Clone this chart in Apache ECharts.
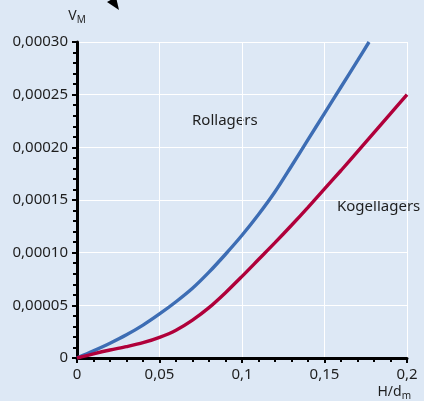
<!DOCTYPE html>
<html>
<head>
<meta charset="utf-8">
<script src="https://cdn.jsdelivr.net/npm/echarts@6/dist/echarts.min.js"></script>
<style>
html,body{margin:0;padding:0;background:#dde8f5;}
#c{width:424px;height:401px;}
</style>
</head>
<body>
<div id="c"></div>
<script>
// Data
var rollX = [0, 0.01, 0.02, 0.03, 0.04, 0.05, 0.06, 0.07, 0.08, 0.09, 0.10, 0.11, 0.12, 0.13, 0.14, 0.15, 0.16, 0.17, 0.177];
var rollY = [0, 0.0000068, 0.000014, 0.000022, 0.0000312, 0.0000418, 0.0000534, 0.0000662, 0.0000815, 0.0000985, 0.0001165, 0.0001362, 0.0001578, 0.0001823, 0.0002073, 0.0002323, 0.0002573, 0.0002823, 0.0003];
var kogX = [0, 0.01, 0.02, 0.03, 0.04, 0.05, 0.06, 0.07, 0.08, 0.09, 0.10, 0.11, 0.12, 0.13, 0.14, 0.15, 0.16, 0.17, 0.18, 0.19, 0.2];
var kogY = [0, 0.000004, 0.0000076, 0.0000108, 0.0000145, 0.0000196, 0.0000264, 0.000036, 0.0000478, 0.000062, 0.0000775, 0.0000935, 0.0001095, 0.000126, 0.000143, 0.0001605, 0.000178, 0.000196, 0.000214, 0.000232, 0.00025];
var seriesNames = ['Rollagers', 'Kogellagers'];
var xTicks = [0, 0.05, 0.1, 0.15, 0.2];
var yTicks = [0, 0.00005, 0.0001, 0.00015, 0.0002, 0.00025, 0.0003];

function pairs(xs, ys) { return xs.map(function (x, i) { return [x, ys[i]]; }); }

var FONT = 'Noto Sans';
var TXT = '#1e1e1e';
var FS = 15;
var chart = echarts.init(document.getElementById('c'), null, {renderer: 'canvas'});
chart.setOption({
  backgroundColor: '#dde8f5',
  animation: false,
  textStyle: {fontFamily: FONT},
  grid: {left: 77, right: 17, top: 42, bottom: 43, containLabel: false},
  xAxis: {
    type: 'value', min: xTicks[0], max: xTicks[xTicks.length - 1], interval: 0.05,
    name: '{v|H/d}{s|m}',
    nameLocation: 'end', nameGap: 4,
    nameTextStyle: {
      align: 'right', verticalAlign: 'top', padding: [26, 0, 0, 0], color: TXT,
      rich: {v: {fontSize: 14, color: TXT, fontFamily: FONT, lineHeight: 16},
             s: {fontSize: 10, color: TXT, fontFamily: FONT, padding: [7, 0, 0, 0]}}
    },
    axisLine: {show: true, onZero: false, lineStyle: {color: '#000', width: 3}},
    axisTick: {show: true, inside: false, length: 5, lineStyle: {color: '#000', width: 2}},
    minorTick: {show: true, splitNumber: 5, length: 4, lineStyle: {color: '#000', width: 2}},
    axisLabel: {
      margin: 9, fontSize: FS, color: TXT, fontFamily: FONT,
      formatter: function (v) { return String(Number(v.toFixed(2))).replace('.', ','); }
    },
    splitLine: {show: true, lineStyle: {color: '#ffffff', width: 1}}
  },
  yAxis: {
    type: 'value', min: yTicks[0], max: yTicks[yTicks.length - 1], interval: 0.00005,
    name: '{v|V}{s|M}',
    nameLocation: 'end', nameGap: 17,
    nameTextStyle: {
      align: 'center', color: TXT,
      rich: {v: {fontSize: 14, color: TXT, fontFamily: FONT, lineHeight: 16},
             s: {fontSize: 10, color: TXT, fontFamily: FONT, padding: [7, 0, 0, 0]}}
    },
    axisLine: {show: true, onZero: false, lineStyle: {color: '#000', width: 3}},
    axisTick: {show: true, inside: false, length: 5, lineStyle: {color: '#000', width: 2}},
    minorTick: {show: true, splitNumber: 5, length: 4, lineStyle: {color: '#000', width: 2}},
    axisLabel: {
      margin: 9, fontSize: FS, color: TXT, fontFamily: FONT,
      formatter: function (v) { return v === 0 ? '0' : v.toFixed(5).replace('.', ','); }
    },
    splitLine: {show: true, lineStyle: {color: '#ffffff', width: 1}}
  },
  series: [
    {
      name: seriesNames[0], type: 'line', data: pairs(rollX, rollY), smooth: 0.3,
      showSymbol: false, symbol: 'none', z: 3,
      lineStyle: {color: '#3d6db4', width: 3.4}
    },
    {
      name: seriesNames[1], type: 'line', data: pairs(kogX, kogY), smooth: 0.3,
      showSymbol: false, symbol: 'none', z: 3,
      lineStyle: {color: '#b0003a', width: 3.4}
    }
  ],
  graphic: [
    {type: 'text', left: 192, top: 113, style: {text: seriesNames[0], fill: TXT, font: '15px "Noto Sans"'}},
    {type: 'text', left: 337, top: 199, style: {text: seriesNames[1], fill: TXT, font: '15px "Noto Sans"'}},
    {type: 'polygon', shape: {points: [[107, 2], [116, -3], [119, 10]]}, style: {fill: '#000'}},
    {type: 'line', shape: {x1: 95, y1: -12, x2: 112, y2: 0}, style: {stroke: '#000', lineWidth: 2}}
  ]
});
</script>
</body>
</html>
